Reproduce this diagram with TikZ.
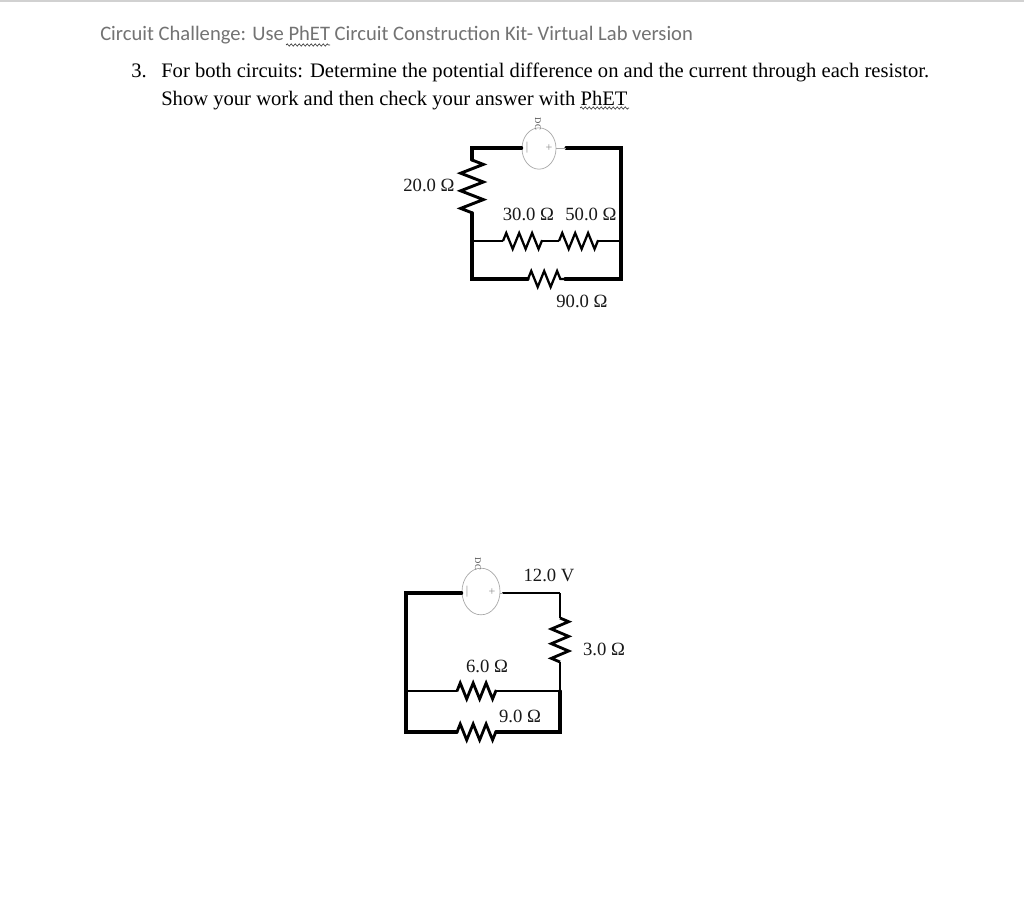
\documentclass[tikz,border=0pt]{standalone}
\usepackage{fontspec}
\setmainfont{Liberation Serif}
\newfontfamily\headfont{Carlito}
\usetikzlibrary{decorations.pathmorphing,shapes.geometric}
\tikzset{
  fatwire/.style={line width=2.3pt,line cap=round,black},
  midwire/.style={line width=1.2pt,black},
  leadwire/.style={line width=0.5pt,black!35},
  meter/.style={draw=black!35,line width=0.5pt,fill=white,ellipse,inner sep=0pt},
  resh/.style={line width=1.7pt,black,decorate,decoration={zigzag,amplitude=6pt,segment length=9.7pt}},
  resv/.style={line width=2.2pt,black,decorate,decoration={zigzag,amplitude=8.5pt,segment length=13.2pt}},
  ressm/.style={line width=2.1pt,black,decorate,decoration={zigzag,amplitude=6.5pt,segment length=11pt}},
  val/.style={font=\fontsize{14pt}{15pt}\selectfont,black!90,inner sep=0pt},
  body/.style={font=\fontsize{15.45pt}{17pt}\selectfont,anchor=base west,inner sep=0pt,black},
  mark dc/.style={font=\fontsize{6.5pt}{6.5pt}\selectfont,rotate=-90,inner sep=0pt,black!70},
  mark sign/.style={font=\fontsize{9pt}{9pt}\selectfont,inner sep=0pt,black!45},
  squiggle/.style={line width=0.5pt,black!80,decorate,decoration={snake,amplitude=0.8pt,segment length=3pt}}
}
\begin{document}
\begin{tikzpicture}[x=0.75pt,y=-0.75pt]
  \useasboundingbox (0,0) rectangle (1024,899);
  \fill[white] (0,0) rectangle (1024,899);
  \coordinate (ruleA) at (0,1);
  \coordinate (ruleB) at (1024,1);
  \draw[line width=1.5pt,black!18] (ruleA) -- (ruleB);
  % text of the sheet
  \node[body,font=\headfont\fontsize{15.45pt}{17pt}\selectfont,black!55] (head) at (100,41) {Circuit Challenge: Use PhET Circuit Construction Kit- Virtual Lab version};
  \node[body] (num) at (131,78) {3.};
  \node[body] (lineA) at (161,78) {For both circuits: Determine the potential difference on and the current through each resistor.};
  \node[body] (lineB) at (161,105) {Show your work and then check your answer with PhET};
  \coordinate (waveA) at (286,45);
  \coordinate (waveB) at (330,45);
  \coordinate (waveC) at (580,108);
  \coordinate (waveD) at (629,108);
  \draw[squiggle] (waveA) -- (waveB);
  \draw[squiggle] (waveC) -- (waveD);
  % upper circuit
  \node[meter,minimum width=25.5pt,minimum height=31pt] (batA) at (539,148.5) {};
  \coordinate (a1) at (472,148);
  \coordinate (a2) at (621,148);
  \coordinate (a3) at (621,279);
  \coordinate (a4) at (472,279);
  \coordinate (a5) at (472,241);
  \coordinate (a6) at (621,241);
  \coordinate (a7) at (566,148);
  \coordinate (r20a) at (472,160);
  \coordinate (r20b) at (472,213);
  \coordinate (r30a) at (503,241);
  \coordinate (r30b) at (542,241);
  \coordinate (r50a) at (559,241);
  \coordinate (r50b) at (598,241);
  \coordinate (r90a) at (528,279);
  \coordinate (r90b) at (565,279);
  \draw[fatwire] (batA.west |- a1) -- (a1) -- (r20a);
  \draw[fatwire] (r20b) -- (a4) -- (r90a);
  \draw[fatwire] (r90b) -- (a3) -- (a2) -- (a7);
  \draw[leadwire] (batA.east |- a7) -- (a7);
  \draw[midwire] (a5) -- (r30a) (r30b) -- (r50a) (r50b) -- (a6);
  \draw[resv] (r20a) -- (r20b);
  \draw[resh] (r30a) -- (r30b);
  \draw[resh] (r50a) -- (r50b);
  \draw[resh] (r90a) -- (r90b);
  \node[val] (l20) at (429,185) {20.0 Ω};
  \node[val] (l30) at (528.5,214) {30.0 Ω};
  \node[val] (l50) at (591,214) {50.0 Ω};
  \node[val] (l90) at (582,301) {90.0 Ω};
  \node[mark dc] (dcA) at (538,124) {DC};
  \node[mark sign] (minusA) at (527,148) {|};
  \node[mark sign] (plusA) at (549,148) {+};
  % lower circuit
  \node[meter,minimum width=28.5pt,minimum height=35pt] (batB) at (481,591.5) {};
  \coordinate (b1) at (406,593);
  \coordinate (b2) at (560,593);
  \coordinate (b3) at (560,732);
  \coordinate (b4) at (406,732);
  \coordinate (b5) at (406,691);
  \coordinate (b6) at (560,691);
  \coordinate (b7) at (512,593);
  \coordinate (b8) at (503,593);
  \coordinate (r3a) at (560,618);
  \coordinate (r3b) at (560,662);
  \coordinate (r6a) at (457,691);
  \coordinate (r6b) at (496,691);
  \coordinate (r9a) at (457,732);
  \coordinate (r9b) at (496,732);
  \draw[fatwire] (batB.west |- b1) -- (b1) -- (b4) -- (r9a);
  \draw[fatwire] (r9b) -- (b3) -- (b6);
  \draw[midwire,line width=1.7pt] (b6) -- (r3b);
  \draw[midwire,line width=1.7pt] (b2) -- (r3a);
  \draw[fatwire,line width=1.7pt] (b8) -- (b7);
  \draw[midwire] (b7) -- (b2);
  \draw[leadwire] (batB.east |- b8) -- (b8);
  \draw[fatwire,line width=1.7pt] (b5) -- (r6a) (r6b) -- (b6);
  \draw[ressm] (r3a) -- (r3b);
  \draw[resh,line width=2.1pt] (r6a) -- (r6b);
  \draw[resh,line width=2.1pt] (r9a) -- (r9b);
  \node[val] (l12) at (549,575) {12.0 V};
  \node[val] (l3) at (604,649) {3.0 Ω};
  \node[val] (l6) at (487,666) {6.0 Ω};
  \node[val] (l9) at (520,716) {9.0 Ω};
  \node[mark dc] (dcB) at (478,564) {DC};
  \node[mark sign] (minusB) at (467,592) {|};
  \node[mark sign] (plusB) at (492,592) {+};
\end{tikzpicture}
\end{document}
